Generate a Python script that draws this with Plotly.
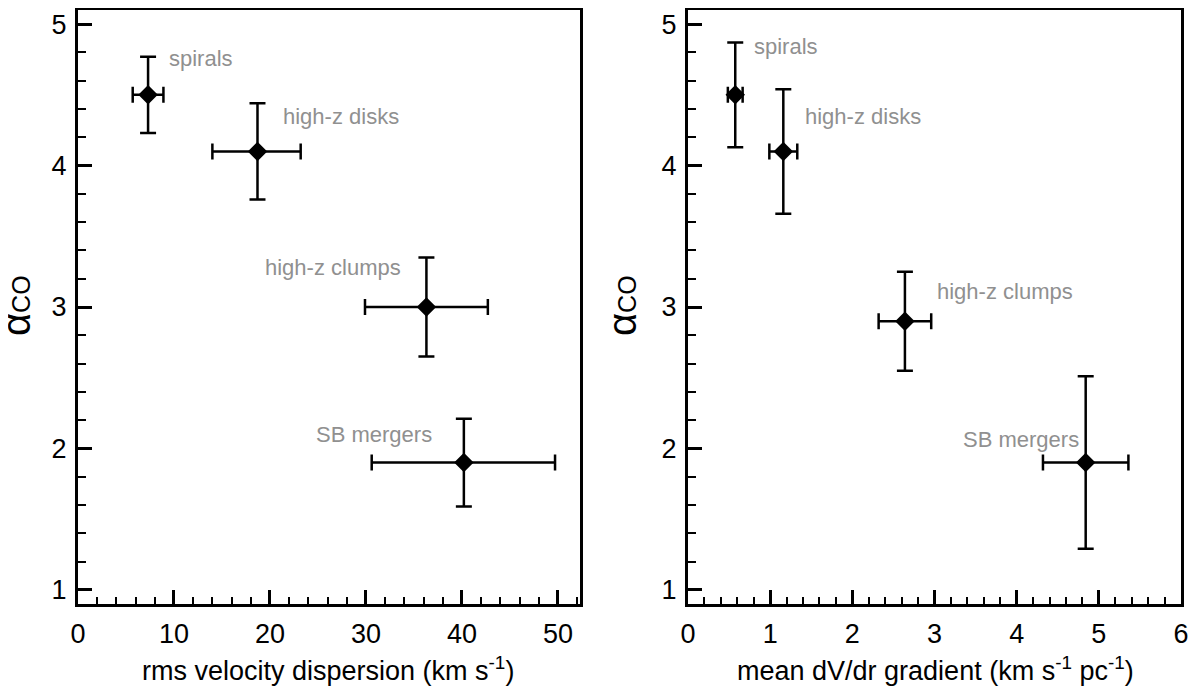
import plotly.graph_objects as go

labels = ["spirals", "high-z disks", "high-z clumps", "SB mergers"]

# left panel: rms velocity dispersion
disp = [7.3, 18.7, 36.3, 40.2]
disp_err_plus = [1.6, 4.5, 6.4, 9.5]
disp_err_minus = [1.6, 4.7, 6.4, 9.6]
alpha_left = [4.5, 4.1, 3.0, 1.9]
alpha_left_err = [0.27, 0.34, 0.35, 0.31]

# right panel: mean velocity gradient
grad = [0.575, 1.16, 2.64, 4.84]
grad_err_plus = [0.09, 0.17, 0.32, 0.52]
grad_err_minus = [0.09, 0.17, 0.32, 0.52]
alpha_right = [4.5, 4.1, 2.9, 1.9]
alpha_right_err = [0.37, 0.44, 0.35, 0.61]

# label anchors (left edge of text)
lab_left_x = [9.3, 21.2, 19.3, 24.6]
lab_left_y = [4.76, 4.35, 3.28, 2.1]
lab_right_x = [0.78, 1.4, 3.01, 3.32]
lab_right_y = [4.84, 4.35, 3.11, 2.06]

x_titles = ["rms velocity dispersion (km s<sup>-1</sup>)",
            "mean dV/dr gradient (km s<sup>-1</sup> pc<sup>-1</sup>)"]
y_title = "α<span style='font-size:25px'>CO</span>"

FONT = "Liberation Sans, Arial, Helvetica, sans-serif"

# page has an 8px body margin, so keep the figure inside the window
W, H = 1192, 678


def errtrace(x, y, xp, xm, ye, xa, ya):
    return go.Scatter(
        x=x, y=y, mode="markers", xaxis=xa, yaxis=ya,
        marker=dict(symbol="diamond", size=15, color="black"),
        error_x=dict(type="data", array=xp, arrayminus=xm, color="black",
                     thickness=2.5, width=8),
        error_y=dict(type="data", array=ye, color="black",
                     thickness=2.5, width=8),
        showlegend=False, hoverinfo="skip",
    )


fig = go.Figure()
fig.add_trace(errtrace(disp, alpha_left, disp_err_plus, disp_err_minus,
                       alpha_left_err, "x", "y"))
fig.add_trace(errtrace(grad, alpha_right, grad_err_plus, grad_err_minus,
                       alpha_right_err, "x2", "y2"))

for i in range(len(labels)):
    fig.add_annotation(x=lab_left_x[i], y=lab_left_y[i], xref="x", yref="y",
                       text=labels[i], showarrow=False, xanchor="left",
                       font=dict(size=22, color="#909090", family=FONT))
    fig.add_annotation(x=lab_right_x[i], y=lab_right_y[i], xref="x2", yref="y2",
                       text=labels[i], showarrow=False, xanchor="left",
                       font=dict(size=22, color="#909090", family=FONT))

# axis titles as paper annotations so they don't push the margins
for xt, cx in zip(x_titles, [320 / W, 927 / W]):
    fig.add_annotation(x=cx, y=1 - 661 / H, xref="paper", yref="paper", text=xt,
                       showarrow=False, xanchor="center", yanchor="middle",
                       font=dict(size=27, color="black", family=FONT))
for cx in [-16 / W, 590 / W]:
    fig.add_annotation(x=cx, y=1 - 298 / H, xref="paper", yref="paper",
                       text=y_title, showarrow=False, textangle=-90,
                       xanchor="left", yanchor="middle",
                       font=dict(size=40, color="black", family=FONT))

axis_common = dict(
    showline=True, linecolor="black", linewidth=3, mirror=True,
    ticks="inside", ticklen=14, tickwidth=3, tickcolor="black",
    showgrid=False, zeroline=False, automargin=False,
    tickfont=dict(size=27, color="black", family=FONT),
)
minor_x = dict(ticks="inside", ticklen=7, tickwidth=2, tickcolor="black")
ydom = [1 - 596 / H, 1 - 2 / H]

fig.update_layout(
    width=W, height=H,
    margin=dict(l=0, r=0, t=0, b=0),
    plot_bgcolor="white", paper_bgcolor="white",
    font=dict(family=FONT, color="black"),
    xaxis=dict(axis_common, domain=[70 / W, 572 / W], range=[0, 52.3],
               tickvals=[0, 10, 20, 30, 40, 50], ticklabelstandoff=4,
               minor=dict(minor_x, dtick=2), anchor="y"),
    yaxis=dict(axis_common, domain=ydom, range=[0.9, 5.1],
               tickvals=[1, 2, 3, 4, 5], ticklabelstandoff=3,
               minor=dict(minor_x, dtick=0.2, ticklen=8), anchor="x"),
    xaxis2=dict(axis_common, domain=[680 / W, 1173 / W], range=[0, 6],
                tickvals=[0, 1, 2, 3, 4, 5, 6], ticklabelstandoff=4,
                ticklabeloverflow="allow",
                minor=dict(minor_x, dtick=0.2), anchor="y2"),
    yaxis2=dict(axis_common, domain=ydom, range=[0.9, 5.1],
                tickvals=[1, 2, 3, 4, 5], ticklabelstandoff=3,
                minor=dict(minor_x, dtick=0.2, ticklen=8), anchor="x2"),
)

fig.write_html("out.html")
